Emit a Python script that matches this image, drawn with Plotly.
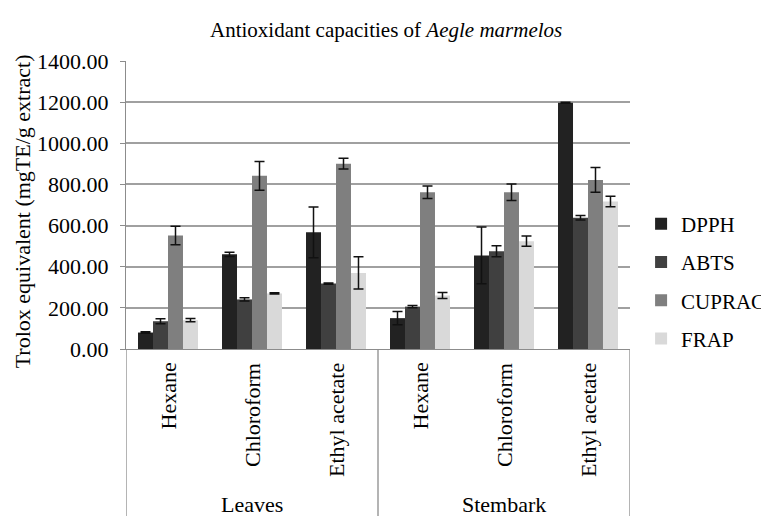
import plotly.graph_objects as go

parts = ["Leaves", "Stembark"]
solvents = ["Hexane", "Chloroform", "Ethyl acetate"]
series = ["DPPH", "ABTS", "CUPRAC", "FRAP"]
colors = ["#222222", "#404040", "#7f7f7f", "#d9d9d9"]

# order: Leaves Hex, Chl, EtOAc, Stembark Hex, Chl, EtOAc
dpph = [80, 460, 567, 150, 455, 1197]
dpph_err = [4, 10, 123, 32, 138, 2]
abts = [135, 241, 318, 206, 475, 638]
abts_err = [12, 8, 3, 5, 27, 11]
cuprac = [552, 842, 901, 762, 762, 822]
cuprac_err = [45, 70, 26, 30, 40, 60]
frap = [140, 270, 370, 260, 524, 717]
frap_err = [8, 3, 78, 15, 25, 25]

values = [dpph, abts, cuprac, frap]
errors = [dpph_err, abts_err, cuprac_err, frap_err]

cats = [f"{p} {s}" for p in parts for s in solvents]

FONT = "Liberation Serif, Times New Roman, serif"
GRID = "#a0a0a0"
AX = "#8c8c8c"
TXT = dict(family=FONT, size=22, color="black")

fig = go.Figure()
for name, vals, errs, col in zip(series, values, errors, colors):
    fig.add_trace(go.Bar(
        x=cats, y=vals, name=name, marker_color=col, marker_line_width=0,
        legendgroup=name,
        error_y=dict(type="data", array=errs, visible=True, color="#111111",
                     thickness=1.5, width=5),
    ))

annotations = []
for i, c in enumerate(cats):
    annotations.append(dict(
        x=c, xref="x", y=0, yref="paper", yshift=-12,
        text=solvents[i % 3], textangle=-90, showarrow=False,
        xanchor="center", yanchor="top", font=TXT))
for j, p in enumerate(parts):
    annotations.append(dict(
        x=j * 3 + 1, xref="x", y=0, yref="paper", yshift=-155,
        text=p, showarrow=False, xanchor="center", yanchor="middle", font=TXT))
annotations.append(dict(
    x=0.515, xref="paper", y=1, yref="paper", yshift=31,
    text="Antioxidant capacities of <i>Aegle marmelos</i>", showarrow=False,
    xanchor="center", yanchor="middle", font=dict(family=FONT, size=21, color="black")))
annotations.append(dict(
    x=0, xref="paper", xshift=-104, y=0.478, yref="paper",
    text="Trolox equivalent (mgTE/g extract)", textangle=-90, showarrow=False,
    xanchor="center", yanchor="middle", font=TXT))

shapes = []
for xv in [-0.5, 2.5, 5.5]:
    shapes.append(dict(type="line", xref="x", yref="paper", x0=xv, x1=xv, y0=0, y1=-0.6,
                       line=dict(color=AX, width=1.3)))

# page body has an 8px margin, so the figure is offset by 8px
fig.update_layout(
    width=761, height=508,
    margin=dict(l=118, r=139, t=53, b=167, autoexpand=False),
    paper_bgcolor="white", plot_bgcolor="white",
    barmode="group", bargap=0.286, bargroupgap=0,
    font=TXT,
    showlegend=True,
    legend=dict(x=1.022, xanchor="left", y=0.505, yanchor="top",
                font=dict(family=FONT, size=21, color="black"), tracegroupgap=8,
                bgcolor="rgba(0,0,0,0)"),
    annotations=annotations, shapes=shapes,
)
fig.update_xaxes(showticklabels=False, showline=True, linecolor=AX, linewidth=1.3,
                 ticks="", showgrid=False, range=[-0.5, 5.5])
fig.update_yaxes(range=[0, 1400], dtick=200, tickformat=".2f", tickfont=TXT,
                 showgrid=True, gridcolor=GRID, gridwidth=1.5,
                 showline=True, linecolor=AX, linewidth=1.3,
                 ticks="outside", ticklen=5, tickcolor=AX, ticklabelstandoff=7,
                 zeroline=False, automargin=False)

fig.write_html("out.html")
